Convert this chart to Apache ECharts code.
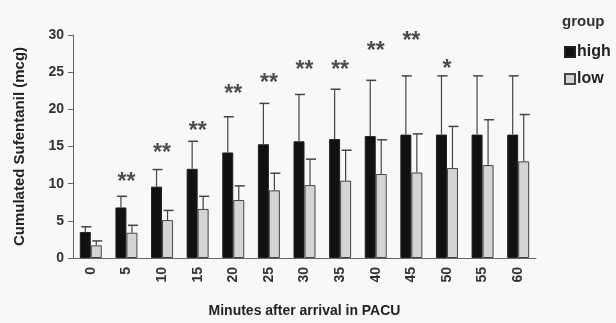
<!DOCTYPE html>
<html>
<head>
<meta charset="utf-8">
<script src="https://cdn.jsdelivr.net/npm/echarts@6/dist/echarts.min.js"></script>
<style>
  html, body { margin: 0; padding: 0; background: #f8f8f8; }
  #chart { width: 616px; height: 323px; }
</style>
</head>
<body>
<div id="chart"></div>
<script>
// minutes after arrival in PACU
var minutes = ["0", "5", "10", "15", "20", "25", "30", "35", "40", "45", "50", "55", "60"];
// mean cumulated sufentanil
var highMean = [3.5, 6.8, 9.6, 12.0, 14.2, 15.3, 15.7, 16.0, 16.4, 16.6, 16.6, 16.6, 16.6];
var lowMean = [1.7, 3.4, 5.1, 6.6, 7.8, 9.1, 9.8, 10.4, 11.3, 11.5, 12.1, 12.5, 13.0];
// top of error bar (mean + SD)
var highTop = [4.2, 8.3, 11.9, 15.7, 19.0, 20.8, 22.0, 22.7, 23.9, 24.5, 24.5, 24.5, 24.5];
var lowTop = [2.3, 4.4, 6.4, 8.3, 9.7, 11.4, 13.3, 14.5, 15.9, 16.7, 17.7, 18.6, 19.3];
// significance marks and their height
var stars = ["", "**", "**", "**", "**", "**", "**", "**", "**", "**", "*", "", ""];
var starY = [0, 10.1, 14.0, 17.0, 22.0, 23.4, 25.2, 25.2, 27.7, 29.1, 25.3, 0, 0];

var BAR_W = 11;
var chart = echarts.init(document.getElementById("chart"));

function errorItem(offset) {
  return function (params, api) {
    var idx = api.value(0);
    var base = api.coord([idx, api.value(1)]);
    var top = api.coord([idx, api.value(2)]);
    var x = base[0] + offset;
    var capHalf = 5;
    return {
      type: "group",
      children: [
        { type: "line", shape: { x1: x, y1: base[1], x2: x, y2: top[1] },
          style: { stroke: "#444", lineWidth: 1.2 } },
        { type: "line", shape: { x1: x - capHalf + 1, y1: top[1], x2: x + capHalf + 1, y2: top[1] },
          style: { stroke: "#444", lineWidth: 1.5 } }
      ]
    };
  };
}

var highErr = [], lowErr = [], starData = [];
for (var i = 0; i < minutes.length; i++) {
  highErr.push([i, highMean[i], highTop[i]]);
  lowErr.push([i, lowMean[i], lowTop[i]]);
  if (stars[i]) starData.push({ value: [i, starY[i]], label: { formatter: stars[i] } });
}

chart.setOption({
  backgroundColor: "#f8f8f8",
  animation: false,
  textStyle: { fontFamily: "Liberation Sans, Arial, sans-serif" },
  grid: { left: 73, right: 80, top: 35, bottom: 58 },
  graphic: [
    {
      type: "text",
      left: 562,
      top: 14,
      style: { text: "group", fill: "#333", font: "bold 15px Liberation Sans" }
    }
  ],
  legend: {
    data: ["high", "low"],
    orient: "vertical",
    left: 559,
    top: 39,
    itemWidth: 10,
    itemHeight: 10,
    itemGap: 11,
    icon: "rect",
    textStyle: { color: "#222", fontSize: 16, fontWeight: "bold", padding: [0, 0, 0, -3] }
  },
  xAxis: {
    type: "category",
    data: minutes,
    name: "Minutes after arrival in PACU",
    nameLocation: "middle",
    nameGap: 46,
    nameTextStyle: { color: "#222", fontSize: 14, fontWeight: "bold" },
    axisLine: { lineStyle: { color: "#666", width: 1 } },
    axisTick: { length: 4, lineStyle: { color: "#666" } },
    axisLabel: { rotate: 90, color: "#333", fontSize: 14, fontWeight: "bold", margin: 9 }
  },
  yAxis: {
    type: "value",
    min: 0,
    max: 30,
    interval: 5,
    name: "Cumulated Sufentanil (mcg)",
    nameLocation: "middle",
    nameGap: 46,
    nameTextStyle: { color: "#222", fontSize: 15, fontWeight: "bold" },
    splitLine: { show: false },
    axisLine: { show: true, lineStyle: { color: "#666", width: 1 } },
    axisTick: { show: true, length: 5, lineStyle: { color: "#666" } },
    axisLabel: { color: "#333", fontSize: 14, fontWeight: "bold", margin: 9 }
  },
  series: [
    {
      name: "high",
      type: "bar",
      data: highMean,
      barWidth: BAR_W,
      barGap: "0%",
      itemStyle: { color: "#111", borderColor: "#222", borderWidth: 1 },
      z: 2
    },
    {
      name: "low",
      type: "bar",
      data: lowMean,
      barWidth: BAR_W,
      itemStyle: { color: "#d4d4d4", borderColor: "#444", borderWidth: 1 },
      z: 2
    },
    {
      name: "highErr",
      type: "custom",
      data: highErr,
      renderItem: errorItem(-BAR_W / 2),
      encode: { x: 0, y: [1, 2] },
      z: 3
    },
    {
      name: "lowErr",
      type: "custom",
      data: lowErr,
      renderItem: errorItem(BAR_W / 2),
      encode: { x: 0, y: [1, 2] },
      z: 3
    },
    {
      name: "stars",
      type: "scatter",
      data: starData,
      symbolSize: 0,
      label: {
        show: true,
        position: "inside",
        color: "#222",
        fontSize: 23,
        fontWeight: "bold"
      },
      z: 4
    }
  ]
});
</script>
</body>
</html>
